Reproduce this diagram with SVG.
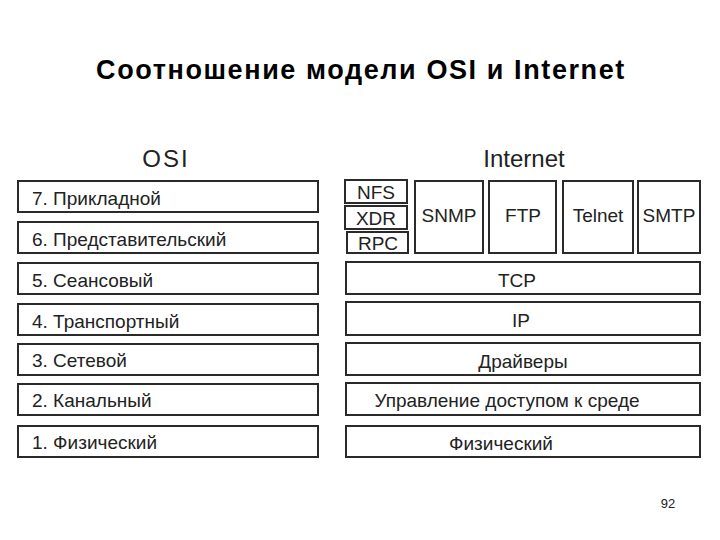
<svg xmlns="http://www.w3.org/2000/svg" width="720" height="540" viewBox="0 0 720 540">
<style>
rect{fill:#fff;stroke:#2a2a2a;stroke-width:2}
text{font-family:"Liberation Sans",Arial,sans-serif;fill:#222;font-size:19px}
.c{text-anchor:middle}
</style>
<rect x="0" y="0" width="720" height="540" style="stroke:none"/>
<text x="361" y="79" class="c" style="font-size:27px;font-weight:bold;fill:#000;letter-spacing:1.6px">Соотношение модели OSI и Internet</text>
<text x="166" y="167" class="c" style="font-size:24px;letter-spacing:2px">OSI</text>
<text x="524" y="167" class="c" style="font-size:24px">Internet</text>
<g id="osi7"><rect x="18" y="181" width="300" height="31"/><text x="32" y="205">7. Прикладной</text></g>
<g id="osi6"><rect x="18" y="222" width="300" height="31"/><text x="32" y="246">6. Представительский</text></g>
<g id="osi5"><rect x="18" y="263" width="300" height="31"/><text x="32" y="287">5. Сеансовый</text></g>
<g id="osi4"><rect x="18" y="304" width="300" height="31"/><text x="32" y="328">4. Транспортный</text></g>
<g id="osi3"><rect x="18" y="344" width="300" height="31"/><text x="32" y="367">3. Сетевой</text></g>
<g id="osi2"><rect x="18" y="384" width="300" height="31"/><text x="32" y="407">2. Канальный</text></g>
<g id="osi1"><rect x="18" y="426" width="300" height="31"/><text x="32" y="449">1. Физический</text></g>
<g id="nfs"><rect x="345" y="180" width="62" height="23"/><text x="376" y="199" class="c">NFS</text></g>
<g id="xdr"><rect x="345" y="206" width="62" height="23"/><text x="376" y="225" class="c">XDR</text></g>
<g id="rpc"><rect x="347" y="232" width="61" height="21"/><text x="378" y="250" class="c">RPC</text></g>
<g id="snmp"><rect x="415" y="181" width="68" height="72"/><text x="449" y="222" class="c">SNMP</text></g>
<g id="ftp"><rect x="489" y="181" width="67" height="72"/><text x="523" y="222" class="c">FTP</text></g>
<g id="telnet"><rect x="563" y="181" width="70" height="72"/><text x="598" y="222" class="c">Telnet</text></g>
<g id="smtp"><rect x="638" y="181" width="62" height="72"/><text x="669" y="222" class="c">SMTP</text></g>
<g id="tcp"><rect x="346" y="262" width="354" height="32"/><text x="517" y="287" class="c">TCP</text></g>
<g id="ip"><rect x="346" y="302" width="354" height="33"/><text x="521" y="327" class="c">IP</text></g>
<g id="drv"><rect x="346" y="343" width="354" height="32"/><text x="523" y="368" class="c">Драйверы</text></g>
<g id="mac"><rect x="346" y="383" width="354" height="32"/><text x="507" y="407" class="c">Управление доступом к среде</text></g>
<g id="phy"><rect x="346" y="426" width="354" height="31"/><text x="501" y="450" class="c">Физический</text></g>
<g id="connectors"></g>
<text x="668" y="508" class="c" style="font-size:13px">92</text>
</svg>
